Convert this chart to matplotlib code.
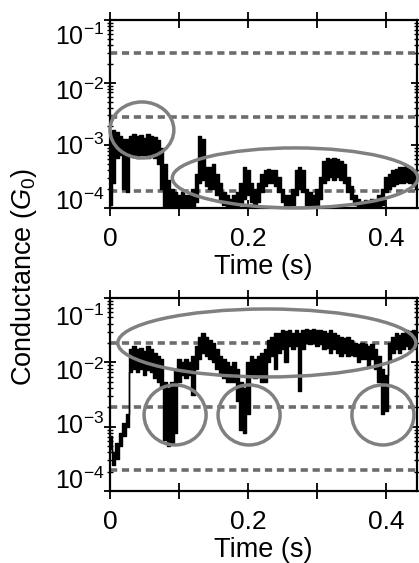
import matplotlib.pyplot as plt
import numpy as np
from matplotlib.patches import Ellipse
from matplotlib.ticker import LogLocator, NullFormatter, FixedLocator

plt.rcParams['font.family'] = ['Liberation Sans', 'DejaVu Sans']
plt.rcParams['mathtext.fontset'] = 'custom'
plt.rcParams['mathtext.rm'] = 'Liberation Sans'
plt.rcParams['mathtext.it'] = 'Liberation Sans:italic'

# time axis of both traces (s)
t = np.arange(90) * 0.005

# top trace: upper / lower envelope, log10(G/G0)
top_hi = [-2.80, -2.75, -2.78, -2.85, -2.90, -2.90, -2.85, -2.82, -2.85, -2.83,
          -2.88, -2.82, -2.85, -2.87, -2.92, -3.05, -3.30, -3.55, -3.70, -3.75,
          -3.80, -3.75, -3.80, -3.80, -3.70, -3.45, -2.85, -2.90, -3.35, -3.35,
          -3.30, -3.45, -3.60, -3.75, -3.80, -3.85, -3.80, -3.75, -3.60, -3.35,
          -3.40, -3.60, -3.70, -3.60, -3.45, -3.40, -3.38, -3.40, -3.40, -3.50,
          -3.70, -3.80, -3.80, -3.70, -3.40, -3.35, -3.40, -3.70, -3.75, -3.80,
          -3.70, -3.50, -3.25, -3.20, -3.22, -3.20, -3.22, -3.25, -3.30, -3.50,
          -3.65, -3.80, -3.85, -3.90, -3.88, -3.90, -3.85, -3.90, -3.80, -3.70,
          -3.50, -3.45, -3.40, -3.38, -3.35, -3.35, -3.32, -3.35, -3.40, -3.45]
top_lo = [-3.95, -3.60, -3.20, -3.15, -3.70, -3.75, -3.15, -3.18, -3.20, -3.15,
          -3.15, -3.20, -3.15, -3.20, -3.30, -3.70, -4.00, -4.00, -4.00, -4.00,
          -4.00, -4.00, -4.00, -4.00, -4.00, -3.90, -3.60, -3.55, -3.65, -3.70,
          -3.70, -3.80, -3.90, -3.95, -4.00, -4.00, -4.00, -4.00, -3.95, -3.85,
          -3.80, -3.90, -3.95, -3.90, -3.75, -3.65, -3.60, -3.60, -3.65, -3.75,
          -3.90, -4.00, -4.00, -3.95, -3.80, -3.70, -3.75, -3.95, -4.00, -4.00,
          -3.95, -3.85, -3.60, -3.55, -3.50, -3.55, -3.50, -3.55, -3.60, -3.75,
          -3.85, -3.95, -4.00, -4.00, -4.00, -4.00, -4.00, -4.00, -4.00, -3.95,
          -3.75, -3.70, -3.65, -3.62, -3.60, -3.60, -3.58, -3.60, -3.65, -3.70]

# bottom trace
bot_hi = [-3.15, -3.40, -3.25, -3.10, -2.95, -2.80, -1.80, -1.75, -1.80, -1.78,
          -1.82, -1.75, -1.80, -1.85, -1.90, -1.95, -2.30, -2.40, -2.30, -2.10,
          -1.95, -2.00, -1.95, -2.00, -1.90, -1.75, -1.60, -1.55, -1.60, -1.65,
          -1.70, -1.80, -1.90, -1.95, -2.00, -2.05, -2.00, -2.10, -2.30, -2.40,
          -2.00, -1.90, -1.95, -1.90, -1.85, -1.80, -1.65, -1.60, -1.55, -1.55,
          -1.50, -1.52, -1.50, -1.55, -1.50, -1.55, -1.50, -1.48, -1.50, -1.48,
          -1.50, -1.50, -1.52, -1.55, -1.50, -1.55, -1.58, -1.60, -1.62, -1.60,
          -1.65, -1.70, -1.72, -1.70, -1.72, -1.75, -1.72, -1.80, -1.90, -2.10,
          -2.20, -1.70, -1.60, -1.55, -1.58, -1.55, -1.50, -1.52, -1.50, -1.52]
bot_lo = [-3.35, -3.60, -3.50, -3.30, -3.15, -3.00, -2.15, -2.10, -2.15, -2.10,
          -2.20, -2.12, -2.15, -2.25, -2.30, -2.40, -3.20, -3.30, -3.25, -3.10,
          -2.30, -2.20, -2.25, -2.20, -2.50, -2.10, -1.95, -1.85, -1.90, -1.95,
          -2.00, -2.10, -2.20, -2.25, -2.30, -2.30, -2.30, -2.60, -3.05, -3.10,
          -2.80, -2.20, -2.25, -2.20, -2.30, -2.30, -2.00, -1.90, -2.10, -1.85,
          -1.80, -2.00, -1.75, -1.80, -1.75, -2.45, -1.80, -1.70, -1.72, -1.70,
          -1.75, -1.72, -1.80, -1.78, -1.85, -1.80, -1.85, -1.90, -1.85, -1.90,
          -1.88, -1.90, -2.00, -1.95, -1.95, -2.05, -1.95, -2.10, -2.30, -2.80,
          -2.75, -2.00, -1.85, -1.80, -1.85, -1.80, -1.75, -1.80, -1.75, -1.80]

# reference levels (G0)
top_levels = [0.0295, 0.0028, 1.9e-4]
bot_levels = [0.020, 0.0020, 2.1e-4]

ytick_text = [r'$10^{-1}$', r'$10^{-2}$', r'$10^{-3}$', r'$10^{-4}$']
xticks = [0, 0.1, 0.2, 0.3, 0.4]
xtick_text = ['0', '', '0.2', '', '0.4']

W, H = 419, 563
fig = plt.figure(figsize=(W / 100, H / 100), dpi=100)
ax1 = fig.add_axes([110 / W, 1 - 208 / H, 307 / W, 188 / H])
ax2 = fig.add_axes([110 / W, 1 - 491 / H, 307 / W, 193 / H])


def setup(ax, hi, lo, levels, label_y, ellipses):
    ax.set_yscale('log')
    ax.fill_between(t, 10 ** np.array(lo), 10 ** np.array(hi), step='mid',
                    color='k', lw=1.0, edgecolor='k', zorder=3)
    for lv in levels:
        ax.axhline(lv, color='#6c6c6c', lw=2.6, dashes=(2.0, 1.3), zorder=2)
    for cx, cy, w, h in ellipses:
        ax.add_patch(Ellipse((cx, cy), w, h, transform=ax.transAxes, fill=False,
                             ec='#808080', lw=2.5, clip_on=False, zorder=4))
    ax.set_xlim(0, 0.445)
    ax.set_ylim(1e-4, 1e-1)
    ax.xaxis.set_major_locator(FixedLocator(xticks))
    ax.set_xticklabels(xtick_text, fontsize=19)
    ax.yaxis.set_major_locator(LogLocator(base=10, numticks=10))
    ax.yaxis.set_minor_locator(LogLocator(base=10, subs=np.arange(2, 10), numticks=10))
    ax.yaxis.set_major_formatter(NullFormatter())
    ax.yaxis.set_minor_formatter(NullFormatter())
    ax.tick_params(axis='x', which='major', direction='inout', length=11, width=1.3,
                   top=True, bottom=True, pad=8)
    ax.tick_params(axis='y', which='major', direction='inout', length=8, width=1.3,
                   left=True, right=True)
    ax.tick_params(axis='y', which='minor', direction='inout', length=4.5, width=1.0,
                   left=True, right=True)
    for s in ax.spines.values():
        s.set_linewidth(1.6)
    for yy, txt in zip(label_y, ytick_text):
        ax.text(-0.179, yy, txt, transform=ax.transAxes, ha='left', va='baseline',
                fontsize=18)
    ax.set_xlabel('Time (s)', fontsize=19.5, labelpad=2)


setup(ax1, top_hi, top_lo, top_levels, np.linspace(0.867, -0.011, 4),
      [(0.104, 0.415, 0.208, 0.298), (0.603, 0.16, 0.80, 0.319)])
setup(ax2, bot_hi, bot_lo, bot_levels, np.linspace(0.855, 0.012, 4),
      [(0.511, 0.767, 0.971, 0.352), (0.212, 0.394, 0.202, 0.311),
       (0.453, 0.394, 0.202, 0.311), (0.889, 0.394, 0.202, 0.311)])

fig.text(24 / W, 1 - 277 / H, 'Conductance ($G_0$)', rotation=90, ha='center',
         va='center', fontsize=19.5)

fig.savefig('out.png', dpi=100)
